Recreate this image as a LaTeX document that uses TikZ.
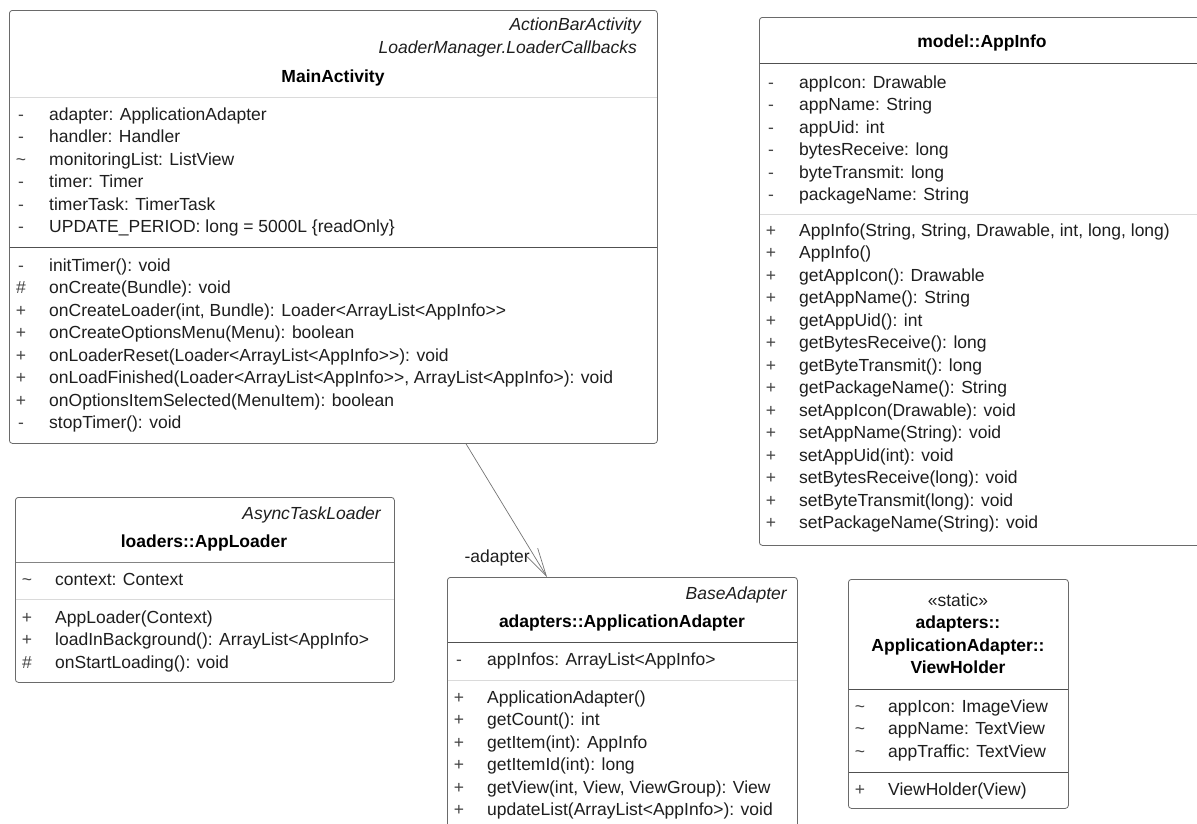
\documentclass[tikz,border=0pt]{standalone}
\usepackage{fontspec}
\setmainfont{Liberation Sans}[Ligatures=ResetAll]
\usetikzlibrary{arrows.meta,calc}
\definecolor{txtc}{HTML}{1E1E1E}
\definecolor{mkc}{HTML}{444444}
\definecolor{bordc}{HTML}{6A6A6A}
\definecolor{sepdark}{HTML}{505050}
\definecolor{seplight}{HTML}{DADADA}
\definecolor{linec}{HTML}{747474}
\newcommand\umlfont{\fontsize{17.5}{21}\selectfont}
\newcommand\umlrows[4]{%
  \foreach \mkx/\tx [count=\i from 0] in {#4} {
    \node[umlmark] (#1m\i) at (#2+12, #3+22.5*\i+6) {\mkx};
    \node[umlrow] (#1t\i) at (#2+40, #3+22.5*\i+6) {\tx};
  }}
\begin{document}
\begin{tikzpicture}[x=1pt,y=-1pt,
  classbox/.style={draw=bordc, line width=0.8pt, rounded corners=3pt, fill=white, inner sep=0pt, anchor=north west},
  umlrow/.style={anchor=base west, inner sep=0pt, font=\umlfont, text=txtc},
  umlmark/.style={anchor=base, inner sep=0pt, font=\umlfont, text=mkc},
  ttl/.style={anchor=base, inner sep=0pt, font=\umlfont\bfseries, text=black},
  stereo/.style={anchor=base, inner sep=0pt, font=\umlfont, text=txtc},
  itl/.style={anchor=base east, inner sep=0pt, font=\umlfont\itshape, text=txtc},
  dsep/.style={draw=sepdark, line width=0.9pt},
  lsep/.style={draw=seplight, line width=0.9pt},
  assoc/.style={draw=linec, line width=0.7pt, -{Straight Barb[length=28pt, width=14pt, line width=0.7pt]}},
  lbl/.style={anchor=base east, inner sep=0pt, font=\umlfont, text=txtc}]
\useasboundingbox (0,0) rectangle (1197,823);
\clip (0,0) rectangle (1197,823);

% ---------------- MainActivity ----------------
\node[classbox, minimum width=648pt, minimum height=433pt] (ma) at (9,10) {};
\node[itl] (ma-s1) at (641,30) {ActionBarActivity};
\node[itl] (ma-s2) at (637,53) {LoaderManager.LoaderCallbacks};
\node[ttl] (ma-n) at (333,82) {MainActivity};
\draw[lsep] (9.5,97) -- (656.5,97);
\umlrows{maa}{9}{114}{{-}/{adapter: ApplicationAdapter},{-}/{handler: Handler},{\textasciitilde}/{monitoringList: ListView},{-}/{timer: Timer},{-}/{timerTask: TimerTask},{-}/{UPDATE\_PERIOD: long = 5000L \{readOnly\}}}
\draw[dsep] (9.5,247) -- (656.5,247);
\umlrows{mao}{9}{265}{{-}/{initTimer(): void},{\#}/{onCreate(Bundle): void},{+}/{onCreateLoader(int, Bundle): Loader<ArrayList<AppInfo>{}>},{+}/{onCreateOptionsMenu(Menu): boolean},{+}/{onLoaderReset(Loader<ArrayList<AppInfo>{}>): void},{+}/{onLoadFinished(Loader<ArrayList<AppInfo>{}>, ArrayList<AppInfo>): void},{+}/{onOptionsItemSelected(MenuItem): boolean},{-}/{stopTimer(): void}}

% ---------------- model::AppInfo ----------------
\node[classbox, minimum width=446pt, minimum height=528pt] (ai) at (759,17) {};
\node[ttl] (ai-n) at (982,47) {model::AppInfo};
\draw[dsep] (759.5,63) -- (1205,63);
\umlrows{aia}{759}{82}{{-}/{appIcon: Drawable},{-}/{appName: String},{-}/{appUid: int},{-}/{bytesReceive: long},{-}/{byteTransmit: long},{-}/{packageName: String}}
\draw[lsep] (759.5,214) -- (1205,214);
\umlrows{aio}{759}{230}{{+}/{AppInfo(String, String, Drawable, int, long, long)},{+}/{AppInfo()},{+}/{getAppIcon(): Drawable},{+}/{getAppName(): String},{+}/{getAppUid(): int},{+}/{getBytesReceive(): long},{+}/{getByteTransmit(): long},{+}/{getPackageName(): String},{+}/{setAppIcon(Drawable): void},{+}/{setAppName(String): void},{+}/{setAppUid(int): void},{+}/{setBytesReceive(long): void},{+}/{setByteTransmit(long): void},{+}/{setPackageName(String): void}}

% ---------------- loaders::AppLoader ----------------
\node[classbox, minimum width=379pt, minimum height=185pt] (al) at (15,497) {};
\node[itl] (al-s) at (381,519) {AsyncTaskLoader};
\node[ttl] (al-n) at (204,547) {loaders::AppLoader};
\draw[dsep, draw=sepdark!70] (15.5,562) -- (393.5,562);
\umlrows{ala}{15}{579}{{\textasciitilde}/{context: Context}}
\draw[lsep] (15.5,599) -- (393.5,599);
\umlrows{alo}{15}{617}{{+}/{AppLoader(Context)},{+}/{loadInBackground(): ArrayList<AppInfo>},{\#}/{onStartLoading(): void}}

% ---------------- adapters::ApplicationAdapter ----------------
\node[classbox, minimum width=350pt, minimum height=270pt] (ad) at (447,577) {};
\node[itl] (ad-s) at (787,599) {BaseAdapter};
\node[ttl] (ad-n) at (622,627) {adapters::ApplicationAdapter};
\draw[dsep] (447.5,642) -- (796.5,642);
\umlrows{ada}{447}{659}{{-}/{appInfos: ArrayList<AppInfo>}}
\draw[lsep] (447.5,680) -- (796.5,680);
\umlrows{ado}{447}{697}{{+}/{ApplicationAdapter()},{+}/{getCount(): int},{+}/{getItem(int): AppInfo},{+}/{getItemId(int): long},{+}/{getView(int, View, ViewGroup): View},{+}/{updateList(ArrayList<AppInfo>): void}}

% ---------------- ViewHolder ----------------
\node[classbox, minimum width=220pt, minimum height=229pt] (vh) at (848,579) {};
\node[stereo] (vh-s) at (958,606) {«static»};
\node[ttl] (vh-n1) at (958,628) {adapters::};
\node[ttl] (vh-n2) at (958,651) {ApplicationAdapter::};
\node[ttl] (vh-n3) at (958,673) {ViewHolder};
\draw[dsep] (848.5,689) -- (1067.5,689);
\umlrows{vha}{848}{706}{{\textasciitilde}/{appIcon: ImageView},{\textasciitilde}/{appName: TextView},{\textasciitilde}/{appTraffic: TextView}}
\draw[dsep] (848.5,772) -- (1067.5,772);
\umlrows{vho}{848}{789}{{+}/{ViewHolder(View)}}

% ---------------- association ----------------
\draw[assoc] ($(ma.south west)+(457,0)$) -- ($(ad.north west)+(100,0)$);
\node[lbl] (adlbl) at (530,562) {-adapter};
\end{tikzpicture}
\end{document}
